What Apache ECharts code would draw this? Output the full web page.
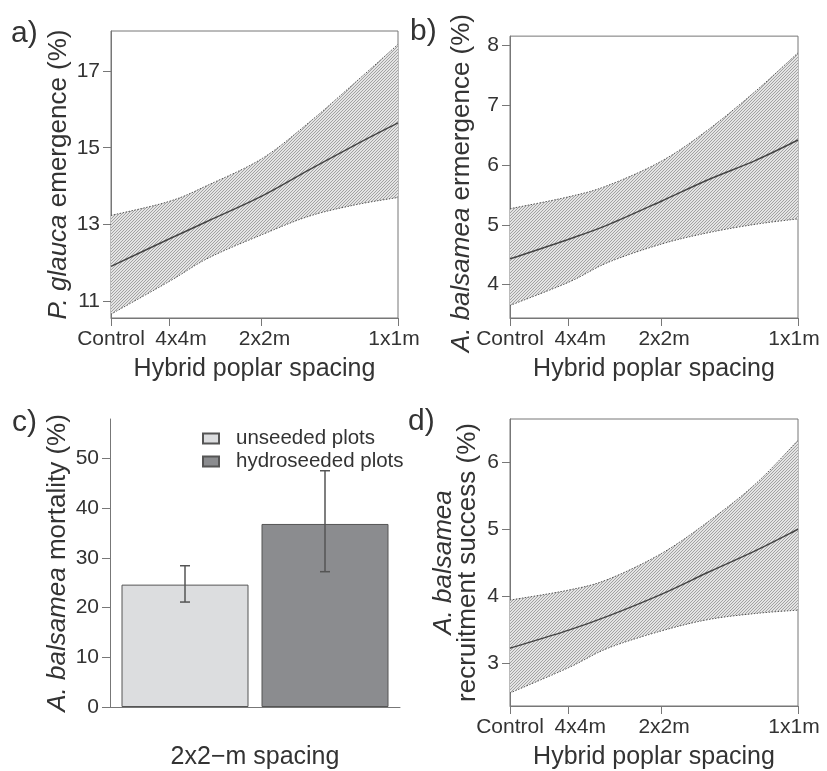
<!DOCTYPE html>
<html>
<head>
<meta charset="utf-8">
<script src="https://cdn.jsdelivr.net/npm/echarts@6/dist/echarts.min.js"></script>
<style>
  html, body { margin: 0; padding: 0; background: #fff; }
  #chart { width: 827px; height: 771px; }
</style>
</head>
<body>
<div id="chart"></div>
<script>
// x positions of the fitted curves (0 = control, 1 = 1x1m)
const xPos = [0, 0.204, 0.34, 0.527, 0.69, 0.853, 1]
const spacingLabels = ["Control", "4x4m", "2x2m", "1x1m"]
const spacingTicks = [0, 0.203, 0.525, 1]
const spacingLabelPos = [0, 0.244, 0.535, 0.986]

// a) P. glauca emergence
const glaucaFit = [11.9, 12.62, 13.09, 13.74, 14.42, 15.08, 15.65]
const glaucaUpper = [13.23, 13.6, 14.03, 14.72, 15.66, 16.72, 17.7]
const glaucaLower = [10.65, 11.51, 12.12, 12.73, 13.21, 13.51, 13.7]
const glaucaTicks = [11, 13, 15, 17]

// b) A. balsamea emergence
const balsEmFit = [4.43, 4.76, 5.0, 5.4, 5.76, 6.08, 6.42]
const balsEmUpper = [5.27, 5.47, 5.66, 6.07, 6.6, 7.24, 7.88]
const balsEmLower = [3.65, 4.04, 4.37, 4.68, 4.87, 5.01, 5.1]
const balsEmTicks = [4, 5, 6, 7, 8]

// c) A. balsamea mortality
const mortalityGroups = ["unseeded plots", "hydroseeded plots"]
const mortalityMean = [24.6, 36.8]
const mortalityLow = [21.1, 27.2]
const mortalityHigh = [28.4, 47.5]
const mortalityTicks = [0, 10, 20, 30, 40, 50]

// d) A. balsamea recruitment success
const recruitFit = [3.22, 3.49, 3.7, 4.03, 4.36, 4.68, 5.0]
const recruitUpper = [3.94, 4.09, 4.25, 4.64, 5.12, 5.68, 6.33]
const recruitLower = [2.55, 2.93, 3.22, 3.48, 3.65, 3.74, 3.79]
const recruitTicks = [3, 4, 5, 6]

const FONT = "Liberation Sans, Arial, sans-serif"
const TEXT = "#333"
const AXIS = "#777"

// fine diagonal hatch used for the confidence bands
const hatch = document.createElement("canvas")
hatch.width = 3
hatch.height = 3
const hctx = hatch.getContext("2d")
hctx.fillStyle = "#e4e4e4"
hctx.fillRect(0, 0, 3, 3)
hctx.strokeStyle = "#a2a2a2"
hctx.lineWidth = 1
hctx.beginPath()
hctx.moveTo(-1, 4); hctx.lineTo(4, -1)
hctx.moveTo(-4, 4); hctx.lineTo(4, -4)
hctx.moveTo(-1, 7); hctx.lineTo(7, -1)
hctx.stroke()

const chart = echarts.init(document.getElementById("chart"))

// smooth path through pixel points (catmull-rom as cubic beziers)
function curvePath(pts, moveFirst) {
  let d = (moveFirst ? "M" : "L") + pts[0][0] + " " + pts[0][1]
  for (let i = 0; i < pts.length - 1; i++) {
    const p0 = pts[i - 1] || pts[i]
    const p1 = pts[i]
    const p2 = pts[i + 1]
    const p3 = pts[i + 2] || p2
    const c1 = [p1[0] + (p2[0] - p0[0]) / 6, p1[1] + (p2[1] - p0[1]) / 6]
    const c2 = [p2[0] - (p3[0] - p1[0]) / 6, p2[1] - (p3[1] - p1[1]) / 6]
    d += " C" + c1[0] + " " + c1[1] + " " + c2[0] + " " + c2[1] + " " + p2[0] + " " + p2[1]
  }
  return d
}

function spacingAxis(gridIndex) {
  return {
    type: "value",
    gridIndex,
    min: 0,
    max: 1,
    name: "Hybrid poplar spacing",
    nameLocation: "middle",
    nameGap: 39,
    nameTextStyle: { fontSize: 25, color: TEXT, fontFamily: FONT },
    axisLine: { show: true, lineStyle: { color: AXIS } },
    axisTick: { show: true, length: 8, customValues: spacingTicks, lineStyle: { color: AXIS } },
    axisLabel: {
      customValues: spacingLabelPos,
      showMinLabel: true,
      showMaxLabel: true,
      hideOverlap: false,
      margin: 11,
      fontSize: 21,
      color: TEXT,
      fontFamily: FONT,
      formatter: (v) => {
        let best = 0
        spacingLabelPos.forEach((t, i) => {
          if (Math.abs(t - v) < Math.abs(spacingLabelPos[best] - v)) best = i
        })
        return spacingLabels[best]
      },
    },
    splitLine: { show: false },
  }
}

function valueAxis(gridIndex, min, max, ticks, name, gap, shift) {
  return {
    type: "value",
    gridIndex,
    min,
    max,
    name,
    nameLocation: "middle",
    nameGap: gap,
    nameTextStyle: {
      fontSize: 26,
      color: TEXT,
      fontFamily: FONT,
      lineHeight: 24,
      padding: shift ? [0, shift, 0, 0] : 0,
      rich: {
        i: { fontStyle: "italic", fontSize: 26, color: TEXT, fontFamily: FONT, lineHeight: 24 },
        n: { fontSize: 26, color: TEXT, fontFamily: FONT, lineHeight: 24 },
      },
    },
    axisLine: { show: true, lineStyle: { color: AXIS } },
    axisTick: { show: true, length: 8, customValues: ticks, lineStyle: { color: AXIS } },
    axisLabel: { customValues: ticks, margin: 11, fontSize: 21, color: TEXT, fontFamily: FONT },
    splitLine: { show: false },
  }
}

function bandSeries(idx, lower, upper, fit) {
  return [
    {
      type: "custom",
      xAxisIndex: idx,
      yAxisIndex: idx,
      silent: true,
      clip: true,
      data: xPos.map((x, i) => [x, lower[i], upper[i]]),
      renderItem(params, api) {
        if (params.dataIndex !== 0) return
        const up = xPos.map((x, i) => api.coord([x, upper[i]]))
        const lo = xPos.map((x, i) => api.coord([x, lower[i]]))
        const loRev = lo.slice().reverse()
        const edge = { stroke: "#555", lineWidth: 1, lineDash: [1.5, 1.5], fill: null }
        return {
          type: "group",
          children: [
            {
              type: "path",
              shape: { pathData: curvePath(up, true) + " " + curvePath(loRev, false) + " Z" },
              style: { fill: { image: hatch, repeat: "repeat" }, stroke: null },
            },
            { type: "path", shape: { pathData: curvePath(up, true) }, style: edge },
            { type: "path", shape: { pathData: curvePath(lo, true) }, style: edge },
          ],
        }
      },
    },
    {
      type: "custom",
      xAxisIndex: idx,
      yAxisIndex: idx,
      silent: true,
      z: 5,
      data: xPos.map((x, i) => [x, fit[i]]),
      renderItem(params, api) {
        if (params.dataIndex !== 0) return
        const pts = xPos.map((x, i) => api.coord([x, fit[i]]))
        return {
          type: "path",
          shape: { pathData: curvePath(pts, true) },
          style: { stroke: "#444", lineWidth: 1.5, fill: null },
        }
      },
    },
  ]
}

const barW = 127
const barGapPx = 13

const option = {
  backgroundColor: "#fff",
  animation: false,
  textStyle: { fontFamily: FONT },
  grid: [
    { left: 111, top: 31, width: 287, height: 287, show: true, borderColor: AXIS, borderWidth: 1, backgroundColor: "transparent" },
    { left: 510, top: 32, width: 288, height: 286, show: true, borderColor: AXIS, borderWidth: 1, backgroundColor: "transparent" },
    { left: 110, top: 419, width: 290, height: 288 },
    { left: 510, top: 419, width: 288, height: 287, show: true, borderColor: AXIS, borderWidth: 1, backgroundColor: "transparent" },
  ],
  xAxis: [
    spacingAxis(0),
    spacingAxis(1),
    {
      type: "category",
      gridIndex: 2,
      data: ["2x2\u2212m spacing"],
      axisLine: { show: true, lineStyle: { color: AXIS } },
      axisTick: { show: false },
      axisLabel: { margin: 38, fontSize: 25, color: TEXT, fontFamily: FONT },
    },
    spacingAxis(3),
  ],
  yAxis: [
    valueAxis(0, 10.55, 18.05, glaucaTicks, "{i|P. glauca}{n| emergence (%)}", 40, 0),
    valueAxis(1, 3.44, 8.16, balsEmTicks, "{i|A. balsamea}{n| ermergence (%)}", 36, 12),
    valueAxis(2, 0, 57.9, mortalityTicks, "{i|A. balsamea}{n| mortality (%)}", 40, 0),
    valueAxis(3, 2.355, 6.65, recruitTicks, "{i|A. balsamea}\n{n|recruitment success (%)}", 30, 0),
  ],
  legend: {
    data: mortalityGroups,
    orient: "vertical",
    left: 202,
    top: 428,
    padding: 0,
    itemWidth: 16,
    itemHeight: 10,
    itemGap: 2,
    icon: "rect",
    textStyle: { fontSize: 20.5, color: TEXT, fontFamily: FONT, lineHeight: 20, padding: [0, 0, 0, 12] },
  },
  graphic: [
    { type: "text", left: 11, top: 19, style: { text: "a)", fontSize: 30, fill: TEXT, fontFamily: FONT } },
    { type: "text", left: 410, top: 17, style: { text: "b)", fontSize: 30, fill: TEXT, fontFamily: FONT } },
    { type: "text", left: 12, top: 408, style: { text: "c)", fontSize: 30, fill: TEXT, fontFamily: FONT } },
    { type: "text", left: 408, top: 407, style: { text: "d)", fontSize: 30, fill: TEXT, fontFamily: FONT } },
  ],
  series: [
    ...bandSeries(0, glaucaLower, glaucaUpper, glaucaFit),
    ...bandSeries(1, balsEmLower, balsEmUpper, balsEmFit),
    {
      name: mortalityGroups[0],
      type: "bar",
      xAxisIndex: 2,
      yAxisIndex: 2,
      data: [mortalityMean[0]],
      barWidth: barW,
      barGap: (barGapPx / barW) * 100 + "%",
      itemStyle: { color: "#dcdddf", borderColor: "#555", borderWidth: 1 },
    },
    {
      name: mortalityGroups[1],
      type: "bar",
      xAxisIndex: 2,
      yAxisIndex: 2,
      data: [mortalityMean[1]],
      barWidth: barW,
      itemStyle: { color: "#8b8c8f", borderColor: "#555", borderWidth: 1 },
    },
    {
      type: "custom",
      xAxisIndex: 2,
      yAxisIndex: 2,
      silent: true,
      z: 10,
      data: mortalityMean.map((m, i) => [0, mortalityLow[i], mortalityHigh[i], i]),
      renderItem(params, api) {
        const off = (api.value(3) === 0 ? -1 : 1) * (barW + barGapPx) / 2
        const lo = api.coord([api.value(0), api.value(1)])
        const hi = api.coord([api.value(0), api.value(2)])
        const x = lo[0] + off
        const cap = 5
        const style = { stroke: "#555", lineWidth: 1.5 }
        return {
          type: "group",
          children: [
            { type: "line", shape: { x1: x, y1: lo[1], x2: x, y2: hi[1] }, style },
            { type: "line", shape: { x1: x - cap, y1: lo[1], x2: x + cap, y2: lo[1] }, style },
            { type: "line", shape: { x1: x - cap, y1: hi[1], x2: x + cap, y2: hi[1] }, style },
          ],
        }
      },
    },
    ...bandSeries(3, recruitLower, recruitUpper, recruitFit),
  ],
}

chart.setOption(option)
</script>
</body>
</html>
